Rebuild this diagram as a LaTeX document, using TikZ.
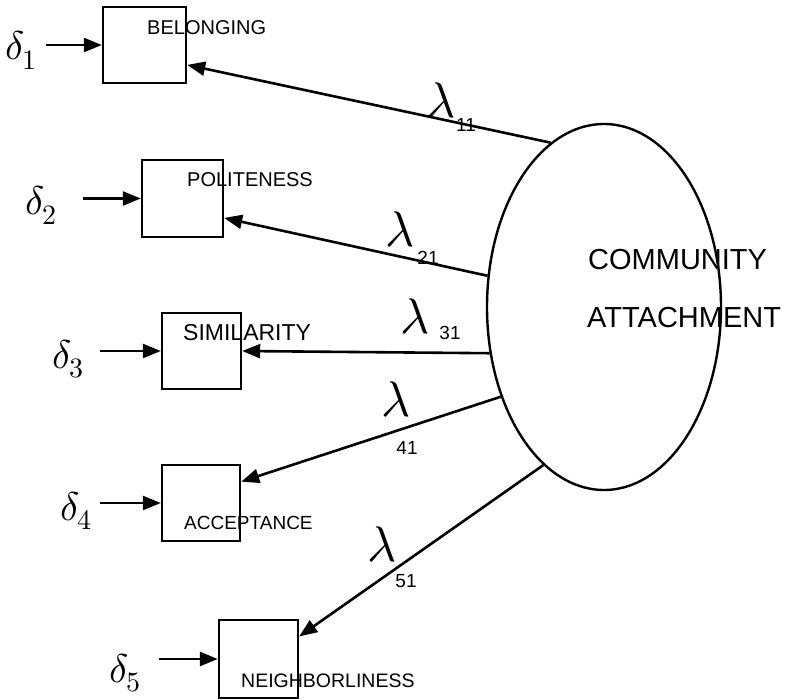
\documentclass[tikz,border=0pt]{standalone}
\usepackage{fontspec}
\usepackage{unicode-math}
\setmainfont{Liberation Sans}
\setmathfont{Latin Modern Math}
\usetikzlibrary{arrows.meta,shapes.geometric}
\begin{document}
\begin{tikzpicture}[x=1pt,y=-1pt,
  box/.style={draw, line width=2.4pt, inner sep=0pt},
  lbl/.style={inner sep=0pt, anchor=base west, font=\fontsize{20}{20}\selectfont},
  big/.style={inner sep=0pt, anchor=base west, font=\fontsize{29}{29}\selectfont},
  dlt/.style={inner sep=0pt, anchor=base west, font=\fontsize{40}{40}\selectfont},
  lam/.style={inner sep=0pt, font=\fontsize{50}{50}\selectfont},
  sub/.style={inner sep=0pt, font=\fontsize{19}{19}\selectfont},
  conn/.style={line width=2.6pt, -{Triangle[length=18pt,width=14pt]}}]
\useasboundingbox (0,0) rectangle (794,700);
% latent variable
\node[draw, ellipse, line width=2.4pt, minimum width=234pt, minimum height=366pt, inner sep=0pt] (E) at (604,307) {};
\node[big] (t1) at (588,270) {COMMUNITY};
\node[big] (t2) at (587,327) {ATTACHMENT};
% indicator boxes
\node[box, minimum width=83pt, minimum height=76pt] (b1) at (144.5,45) {};
\node[box, minimum width=81pt, minimum height=77pt] (b2) at (182.5,198.5) {};
\node[box, minimum width=79pt, minimum height=76pt] (b3) at (201.5,351) {};
\node[box, minimum width=78pt, minimum height=76pt] (b4) at (201,503) {};
\node[box, minimum width=79pt, minimum height=78pt] (b5) at (258.5,659) {};
\node[lbl] (l1) at (147,35) {BELONGING};
\node[lbl] (l2) at (187,187) {POLITENESS};
\node[lbl, font=\fontsize{23}{23}\selectfont] (l3) at (183,340) {SIMILARITY};
\node[lbl, font=\fontsize{19}{19}\selectfont] (l4) at (184,529) {ACCEPTANCE};
\node[lbl, font=\fontsize{19.5}{19.5}\selectfont] (l5) at (241,687) {NEIGHBORLINESS};
% error terms
\node[dlt] (d1) at (5,60) {$\delta_1$};
\node[dlt] (d2) at (25,215) {$\delta_2$};
\node[dlt] (d3) at (52,368) {$\delta_3$};
\node[dlt] (d4) at (60,520) {$\delta_4$};
\node[dlt] (d5) at (109,682) {$\delta_5$};
\coordinate (s1) at (46,45);
\coordinate (s2) at (83,198.5);
\coordinate (s3) at (100,351);
\coordinate (s4) at (100,503);
\coordinate (s5) at (159,659);
\draw[conn] (s1) -- (b1.west);
\draw[conn] (s2) -- (b2.west);
\draw[conn] (s3) -- (b3.west);
\draw[conn] (s4) -- (b4.west);
\draw[conn] (s5) -- (b5.west);
% loadings
\draw[conn] (E.108.2) -- (b1.-25.7);
\draw[conn] (E.165.4) -- (b2.-25.7);
\draw[conn] (E.202) -- (b3.east);
\draw[conn] (E.221.5) -- (b4.28.3);
\draw[conn] (E.249.9) -- (b5.29.1);
% loading labels
\node[lam] (m1) at (441,100) {$\lambda$};
\node[lam] (m2) at (400,229) {$\lambda$};
\node[lam] (m3) at (415,316) {$\lambda$};
\node[lam] (m4) at (396,399) {$\lambda$};
\node[lam] (m5) at (382,544) {$\lambda$};
\node[sub] (n1) at (466,125) {11};
\node[sub] (n2) at (428,258) {21};
\node[sub] (n3) at (450,333) {31};
\node[sub] (n4) at (407,448) {41};
\node[sub] (n5) at (406,581) {51};
\end{tikzpicture}
\end{document}
